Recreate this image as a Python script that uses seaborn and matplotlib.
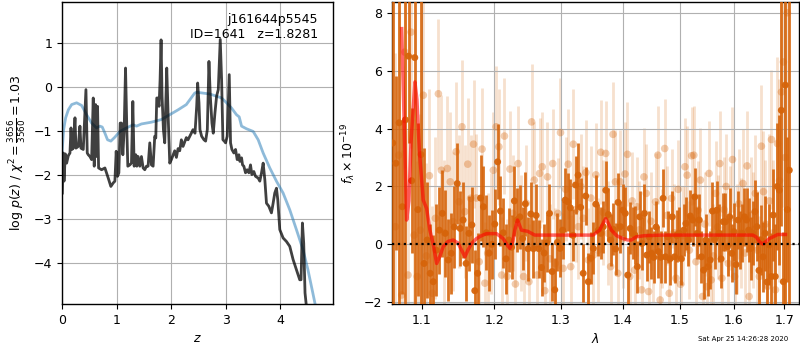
import numpy as np
import pandas as pd
import matplotlib
matplotlib.use("Agg")
import matplotlib.pyplot as plt
import seaborn as sns
from matplotlib.ticker import FixedLocator, FixedFormatter, NullLocator

# ---------------- redshift PDF ----------------
z_pdf = [0.006, 0.024, 0.037, 0.061, 0.085, 0.116, 0.146, 0.165, 0.183, 0.207,
         0.238, 0.256, 0.299, 0.329, 0.348, 0.390, 0.439, 0.463, 0.482, 0.512,
         0.543, 0.573, 0.591, 0.616, 0.634, 0.652, 0.671, 0.726, 0.787, 0.817,
         0.848, 0.896, 0.939, 0.970, 0.994, 1.018, 1.043, 1.067, 1.091, 1.116,
         1.140, 1.165, 1.189, 1.207, 1.244, 1.274, 1.299, 1.323, 1.354, 1.372,
         1.396, 1.427, 1.457, 1.488, 1.518, 1.549, 1.579, 1.610, 1.640, 1.671,
         1.701, 1.720, 1.738, 1.756, 1.780, 1.799, 1.817, 1.835, 1.860, 1.884,
         1.921, 1.945, 1.976, 2.006, 2.037, 2.067, 2.098, 2.128, 2.159, 2.189,
         2.220, 2.250, 2.280, 2.311, 2.372, 2.402, 2.439, 2.470, 2.488, 2.512,
         2.530, 2.561, 2.604, 2.634, 2.665, 2.695, 2.720, 2.750, 2.774, 2.805,
         2.835, 2.866, 2.902, 2.927, 2.951, 2.976, 3.000, 3.030, 3.067, 3.091,
         3.116, 3.152, 3.183, 3.213, 3.244, 3.262, 3.293, 3.311, 3.335, 3.366,
         3.396, 3.427, 3.457, 3.482, 3.518, 3.549, 3.598, 3.628, 3.659, 3.689,
         3.720, 3.750, 3.793, 3.841, 3.872, 3.902, 3.933, 3.957, 3.994, 4.055,
         4.116, 4.177, 4.238, 4.299, 4.360, 4.384, 4.409, 4.433, 4.457, 4.482,
         4.520]
logp_pdf = [-2.41, -1.50, -2.14, -1.52, -1.73, -1.56, -1.50, -0.93, -1.42, -1.39,
            -0.70, -1.39, -1.35, -0.89, -1.39, -1.42, -0.06, -1.50, -1.54, -1.58,
            -1.65, -0.25, -1.80, -0.40, -1.58, -0.44, -1.84, -1.88, -1.84, -1.95,
            -2.07, -2.26, -2.18, -2.14, -1.46, -2.03, -1.95, -0.82, -0.82, -1.54,
            -0.97, 0.43, -0.97, -1.80, -1.77, -1.73, -0.33, -1.80, -1.54, -1.80,
            -1.58, -1.80, -1.58, -1.84, -1.88, -1.80, -1.80, -1.27, -1.77, -1.80,
            -1.12, -1.16, -0.25, -0.25, -0.44, 0.17, 1.07, -0.21, -0.97, -1.27,
            0.43, -0.59, -1.73, -1.65, -1.55, -1.45, -1.60, -1.40, -1.45, -1.20,
            -1.35, -1.25, -1.15, -1.20, -1.05, -0.97, -1.05, -0.44, 0.09, -0.36,
            -0.97, -1.12, -1.20, -1.23, -0.97, 0.58, -0.21, -0.82, -1.05, -0.59,
            -0.21, -0.06, 1.08, 0.17, -1.20, -1.23, -1.27, -1.12, 0.28, -1.27,
            -1.42, -1.50, -1.42, -1.65, -1.54, -1.69, -1.61, -1.77, -1.80, -1.95,
            -1.88, -1.95, -1.77, -1.99, -1.92, -2.03, -2.07, -2.14, -1.95, -1.73,
            -2.11, -2.64, -2.71, -2.86, -2.64, -2.41, -2.30, -2.56, -3.24, -3.43,
            -3.51, -3.62, -3.92, -4.15, -4.38, -4.38, -3.09, -3.55, -4.68, -4.98,
            -6.00]

z_prior = [0.0, 0.03, 0.067, 0.116, 0.177, 0.268, 0.36, 0.451, 0.543, 0.634,
           0.695, 0.738, 0.787, 0.835, 0.896, 0.970, 1.061, 1.183, 1.305, 1.366,
           1.457, 1.640, 1.823, 1.976, 2.128, 2.280, 2.433, 2.47, 2.59, 2.71,
           2.835, 2.927, 3.018, 3.11, 3.20, 3.25, 3.293, 3.384, 3.506, 3.598,
           3.689, 3.811, 3.933, 4.055, 4.177, 4.299, 4.421, 4.51, 4.60, 4.65,
           4.72]
logp_prior = [-1.50, -0.97, -0.70, -0.52, -0.40, -0.36, -0.42, -0.63, -0.82, -0.93,
              -0.89, -0.91, -1.05, -1.20, -1.23, -1.14, -1.01, -0.93, -0.86, -0.89,
              -0.84, -0.80, -0.74, -0.63, -0.52, -0.40, -0.14, -0.12, -0.14, -0.16,
              -0.21, -0.25, -0.36, -0.48, -0.63, -0.68, -0.89, -0.95, -1.01, -1.20,
              -1.50, -1.84, -2.14, -2.41, -2.79, -3.24, -3.70, -4.15, -4.68, -4.98,
              -5.60]

# ---------------- G141 spectrum ----------------
# uniform pixel grids of the two extractions (microns)
wave_a = np.linspace(1.0625, 1.7100, 160)
wave_b = np.linspace(1.0660, 1.7060, 160)

flux_a = [3.5, 2.8, 4.2, 1.3, 4.3, 6.5, 2.2, 6.45, 1.2, 3.1,
          -0.66, 0.15, -1.0, -1.29, -0.2, 0.49, 1.07, 0.38, -0.54, -0.31,
          0.6, 2.1, 0.55, 0.84, -0.66, 0.38, 0.67,
          -1.6, -1.0, 1.6, 1.3, 0.4, -0.3, 0.0, 0.7, 2.85, 1.15,
          0.4, -0.5, 0.15, -0.1, 1.5, 0.85, 0.95, 0.2, 1.4, -0.15,
          1.05, -0.15, 1.0, -0.15, -0.8, -0.3, 0.05, 1.07, -0.94,
          -1.57, 0.07, -0.14, 0.49, 1.53, 1.47, 1.26, 0.31, 2.05, 2.39,
          1.28, -1.0, 1.67, -1.29, -0.48, -0.14, 1.39, 0.49, 0.38, 0.61,
          1.87, 1.03, 0.15, 0.52, -0.16, 1.45, 0.61, 1.18, 1.07, -1.06,
          0.55, 0.38,
          0.32, -0.77, 0.95, 0.03, 1.07, -0.37, 0.26, -0.31, -0.45, 0.6,
          -0.25, -0.45, 1.59, -0.43, 0.26, -0.5, 0.95, -0.43, 0.3, 0.38,
          -0.5, 0.49, 0.72, 0.15, 0.98, 0.84, 1.64, 0.38, 0.84, -0.43,
          -0.89, 0.15, -0.77, -0.54, 1.15,
          0.15, 1.18, 0.38, -0.5, 0.78, 0.78, -0.08, 0.95, -0.31, 0.44,
          -0.7, 0.84, 0.15, 0.38, 0.95, 0.84, 0.49, -0.14, 0.38, 1.13,
          0.61, -0.9, 0.15, -0.43, 0.38, -1.3, -0.02, -1.11, 1.01, -1.11,
          2.0, 1.87, 4.63, -1.29, 5.5, 1.2, 2.56]
err_a = [10, 3, 10, 3, 10, 3, 2.5, 10, 3, 10,
         4.0, 2.0, 1.7, 1.6, 1.6, 1.5, 1.5, 1.5, 1.4, 1.4,
         1.4, 1.4, 1.3, 1.3, 1.3, 1.3, 1.3,
         1.4, 1.4, 1.5, 1.4, 1.3, 1.3, 1.2, 1.2, 1.3, 1.2,
         1.2, 1.2, 1.1, 1.1, 1.2, 1.1, 1.1, 1.1, 1.1, 1.1,
         1.1, 1.0, 1.1, 1.0, 1.0, 1.0, 1.0, 1.0, 1.0,
         1.1, 1.0, 1.0, 1.0, 1.1, 1.0, 1.0, 0.9, 1.0, 1.1,
         1.0, 1.0, 1.0, 1.0, 0.9, 0.9, 1.0, 0.9, 0.9, 0.9,
         1.0, 0.9, 0.9, 0.9, 0.9, 1.0, 0.9, 0.9, 0.9, 1.0,
         0.9, 0.9,
         1.0, 0.9, 0.9, 0.9, 1.0, 0.9, 0.9, 0.9, 0.9, 0.9,
         0.9, 0.9, 1.0, 0.9, 0.9, 0.9, 0.9, 0.9, 0.9, 0.9,
         0.9, 0.9, 0.9, 0.9, 0.9, 0.9, 1.0, 0.9, 0.9, 0.9,
         1.0, 0.9, 1.0, 1.0, 1.0,
         1.0, 1.0, 1.0, 1.0, 1.0, 1.0, 1.0, 1.0, 1.0, 1.0,
         1.0, 1.0, 1.0, 1.0, 1.0, 1.1, 1.1, 1.1, 1.1, 1.1,
         1.2, 1.2, 1.2, 1.2, 1.3, 1.3, 1.4, 1.5, 1.6, 1.8,
         2.2, 2.6, 4.0, 1.7, 8.0, 2.5, 10]

flux_b = [0.61, 3.08, -1.75, 6.64, -1.06, 7.33, 0.32, -1.11, 0.49, 5.15,
          -0.4, 2.37, -1.69, 0.9, 5.2, 2.56, 0.4, 2.62, 2.16, 0.78,
          3.2, 1.47, 4.06, 1.13, 2.77, 1.59, 3.46,
          1.6, -0.6, 3.29, -1.34, -0.31, 0.38, 2.56, 4.06, 3.37, -1.06,
          3.74, -1.11, 2.6, 1.07, -1.37, 2.79, 0.38, -1.11, 1.42, -1.29,
          4.23, 2.22, -1.06, 2.45, 2.68, -1.6, 2.33, -0.5, 2.79,
          -0.66, 1.07, 3.86, -0.83, 1.9, 2.77, -0.77, 3.46, 1.2, 0.61,
          2.0, 0.9, 2.48, -0.54, 1.6, -0.37, 2.4, -0.2, 3.18, 1.1,
          3.14, 0.38, -0.77, 3.8, 2.16, -1.0, 2.16, 0.2, 2.43, 3.11,
          -1.11, 1.5,
          -0.89, 1.3, 0.5, -1.57, 2.33, 1.76, -1.63, 0.8, -0.3, 1.47,
          3.08, -1.92, 0.2, 3.31, 1.0, -1.69, 1.59, 0.4, -1.17, 1.9,
          -1.38, 0.3, 2.68, 2.39, -0.2, 3.06, 3.08, -0.6, 1.18, 2.22,
          -1.8, 0.7, -1.46, 2.45, -1.23,
          -0.4, 1.76, 0.6, 2.79, -1.17, 1.2, 2.0, -0.66, 0.9, 2.93,
          -1.11, 0.2, 1.4, 0.38, 2.1, -0.3, 2.71, -1.8, 1.0, 0.5,
          1.76, -0.2, -1.11, 3.39, 1.82, 0.7, -1.45, 1.5, 3.62, 0.4,
          -1.57, 3.48, 2.2, 5.26, 6.3, 3.0, 8.0]
err_b = [6, 5, 5, 4, 5, 4, 4, 4, 4, 3.5,
         3.2, 3, 3, 2.8, 2.6, 2.6, 2.5, 2.5, 2.4, 2.4,
         2.4, 2.3, 2.3, 2.3, 2.3, 2.2, 2.2,
         2.2, 2.2, 2.1, 2.1, 2.1, 2.1, 2.0, 2.1, 2.0, 2.0,
         2.0, 2.0, 2.0, 2.0, 2.0, 2.0, 2.0, 2.0, 2.0, 2.0,
         2.0, 2.0, 2.0, 1.9, 1.9, 1.9, 1.9, 1.9, 1.9,
         1.9, 1.9, 1.9, 1.9, 1.8, 1.9, 1.8, 1.9, 1.8, 1.8,
         1.8, 1.8, 1.8, 1.8, 1.8, 1.8, 1.8, 1.8, 1.8, 1.8,
         1.8, 1.8, 1.8, 1.8, 1.8, 1.8, 1.8, 1.7, 1.8, 1.8,
         1.8, 1.7,
         1.7, 1.7, 1.7, 1.7, 1.7, 1.7, 1.7, 1.7, 1.7, 1.7,
         1.7, 1.7, 1.7, 1.7, 1.7, 1.7, 1.7, 1.7, 1.7, 1.7,
         1.7, 1.7, 1.7, 1.7, 1.7, 1.7, 1.7, 1.7, 1.7, 1.8,
         1.8, 1.8, 1.8, 1.8, 1.8,
         1.8, 1.8, 1.8, 1.8, 1.8, 1.8, 1.8, 1.8, 1.8, 1.8,
         1.9, 1.9, 1.9, 1.9, 1.9, 1.9, 1.9, 2.0, 2.0, 2.0,
         2.0, 2.0, 2.1, 2.1, 2.1, 2.2, 2.2, 2.3, 2.4, 2.5,
         2.7, 3.0, 3.5, 4.0, 5.0, 6.0, 8.0]

# best-fit continuum + line model
wave_model = [1.0740, 1.0769, 1.0804, 1.0834, 1.0860, 1.0912, 1.0938, 1.0971,
              1.1021, 1.1066, 1.1110, 1.1154, 1.1200, 1.1245, 1.1288, 1.1353,
              1.1424, 1.1490, 1.1540, 1.1586, 1.1628, 1.1679, 1.1749, 1.1820,
              1.1891, 1.2034, 1.2130, 1.2183, 1.2228, 1.2272, 1.2301, 1.2341,
              1.2400, 1.2494, 1.2599, 1.3511, 1.3620, 1.3669, 1.3718, 1.3767,
              1.3813, 1.3900, 1.4006, 1.4085, 1.4147, 1.4232, 1.4374, 1.4693,
              1.6366, 1.6438, 1.6498, 1.6563, 1.6616, 1.6697, 1.6864, 1.7021]
flux_model = [7.45, 4.5, 0.84, 1.5, 3.5, 5.61, 5.0, 3.2,
              1.53, 1.24, 0.49, 0.0, -0.66, -0.4, -0.08, 0.1,
              0.15, 0.05, -0.2, -0.43, -0.2, 0.03, 0.2, 0.3,
              0.37, 0.37, 0.2, 0.0, -0.14, 0.1, 0.49, 0.84,
              0.49, 0.45, 0.32, 0.32, 0.49, 0.7, 0.89, 0.7,
              0.49, 0.3, 0.2, 0.15, 0.15, 0.26, 0.3, 0.32,
              0.32, 0.25, 0.09, 0.01, 0.08, 0.2, 0.34, 0.34]

date_stamp = "Sat Apr 25 14:26:28 2020"

# ---------------- figure ----------------
plt.rcParams.update({
    "font.family": ["DejaVu Sans"],
    "font.size": 9,
    "xtick.labelsize": 9,
    "ytick.labelsize": 9,
    "axes.linewidth": 1.0,
    "mathtext.fontset": "dejavusans",
})

fig = plt.figure(figsize=(8, 3.5), dpi=100)
ax1 = fig.add_axes([62 / 800, 46 / 350, 271 / 800, 302 / 350])
ax2 = fig.add_axes([391.7 / 800, 46 / 350, 407 / 800, 302 / 350])

pdf_df = pd.DataFrame({"z": z_pdf, "logp": logp_pdf})
prior_df = pd.DataFrame({"z": z_prior, "logp": logp_prior})
sns.lineplot(data=prior_df, x="z", y="logp", ax=ax1, color="tab:blue",
             alpha=0.5, lw=2, sort=False, estimator=None)
sns.lineplot(data=pdf_df, x="z", y="logp", ax=ax1, color="k",
             alpha=0.75, lw=2, sort=False, estimator=None)
ax1.set_xlim(0, 4.97)
ax1.set_ylim(-4.93, 1.93)
ax1.grid(True)
ax1.set_xlabel(r"$z$")
ax1.set_ylabel(r"$\log\,p(z)$ / $\chi^2=\frac{3656}{3560}=1.03$")
ax1.text(0.945, 0.965, "j161644p5545\nID=1641   z=1.8281", ha="right",
         va="top", transform=ax1.transAxes, fontsize=9)

orange = "#d6640a"
ax2.errorbar(wave_b, flux_b, yerr=err_b, fmt="none", ecolor=orange,
             alpha=0.2, elinewidth=2, zorder=1)
sns.scatterplot(x=wave_b, y=flux_b, ax=ax2, color=orange, alpha=0.33,
                s=30, edgecolor="none", zorder=2)
ax2.errorbar(wave_a, flux_a, yerr=err_a, fmt="none", ecolor=orange,
             alpha=0.9, elinewidth=2, zorder=3)
sns.scatterplot(x=wave_a, y=flux_a, ax=ax2, color=orange, alpha=0.95,
                s=25, edgecolor="none", zorder=4)
sns.lineplot(x=wave_model, y=flux_model, ax=ax2, color="red", alpha=0.6,
             lw=2.5, sort=False, estimator=None, zorder=5)
ax2.axhline(0, color="k", ls=":", lw=1.6, zorder=6)

ax2.set_xscale("log")
ax2.set_xlim(1.0612, 1.7294)
ax2.set_ylim(-2.06, 8.37)
wticks = [1.1, 1.2, 1.3, 1.4, 1.5, 1.6, 1.7]
ax2.xaxis.set_major_locator(FixedLocator(wticks))
ax2.xaxis.set_major_formatter(FixedFormatter([f"{w:.1f}" for w in wticks]))
ax2.xaxis.set_minor_locator(NullLocator())
ax2.grid(True)
ax2.set_xlabel(r"$\lambda$")
ax2.set_ylabel(r"$f_\lambda\times10^{-19}$")

fig.text(788 / 800, 11 / 350, date_stamp, ha="right", va="center", fontsize=5)

fig.savefig("out.png", dpi=100)
